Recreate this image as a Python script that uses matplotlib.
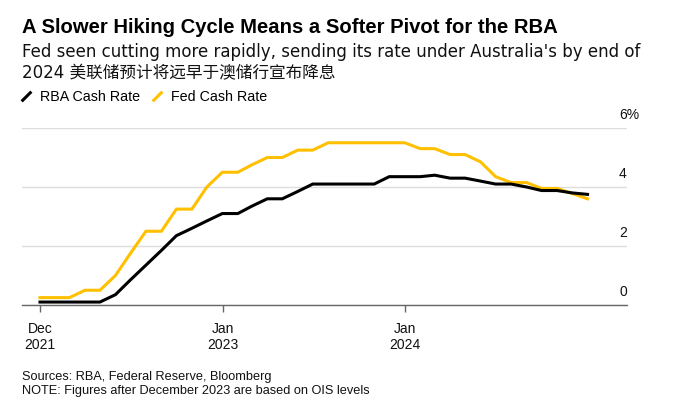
import matplotlib
matplotlib.use('Agg')
import matplotlib.pyplot as plt
import matplotlib.transforms as mtransforms
from matplotlib.lines import Line2D
import pandas as pd

plt.rcParams['font.family'] = ['Liberation Sans', 'Noto Sans CJK SC', 'DejaVu Sans']

# monthly readings, end of Dec 2021 to end of Dec 2024 (OIS after Dec 2023)
months = pd.date_range('2021-12-31', periods=37, freq='ME')
rba_rate = [0.1, 0.1, 0.1, 0.1, 0.1, 0.35, 0.85, 1.35, 1.85, 2.35, 2.6, 2.85, 3.1,
            3.1, 3.35, 3.6, 3.6, 3.85, 4.1, 4.1, 4.1, 4.1, 4.1, 4.35, 4.35,
            4.35, 4.4, 4.3, 4.3, 4.2, 4.1, 4.1, 4.0, 3.88, 3.88, 3.8, 3.75]
fed_rate = [0.25, 0.25, 0.25, 0.5, 0.5, 1.0, 1.75, 2.5, 2.5, 3.25, 3.25, 4.0, 4.5,
            4.5, 4.75, 5.0, 5.0, 5.25, 5.25, 5.5, 5.5, 5.5, 5.5, 5.5, 5.5,
            5.3, 5.3, 5.1, 5.1, 4.85, 4.35, 4.15, 4.15, 3.95, 3.95, 3.78, 3.6]

tick_dates = [pd.Timestamp('2021-12-31'), pd.Timestamp('2023-01-01'), pd.Timestamp('2024-01-01')]
tick_labels = ['Dec\n2021', 'Jan\n2023', 'Jan\n2024']
y_ticks = [0, 2, 4, 6]
y_labels = ['0', '2', '4', '6%']

title = 'A Slower Hiking Cycle Means a Softer Pivot for the RBA'
subtitle = ("Fed seen cutting more rapidly, sending its rate under Australia's by end of\n"
            "2024 美联储预计将远早于澳储行宣布降息")
source = ('Sources: RBA, Federal Reserve, Bloomberg\n'
          'NOTE: Figures after December 2023 are based on OIS levels')

BLACK = '#000000'
YELLOW = '#FFC000'
W, H = 673, 415

fig = plt.figure(figsize=(W / 100, H / 100), dpi=100)
ax = fig.add_axes([22 / W, 1 - 305 / H, (627 - 22) / W, (305 - 128) / H])

ax.plot(months, fed_rate, color=YELLOW, lw=2.2, solid_joinstyle='miter')
ax.plot(months, rba_rate, color=BLACK, lw=2.2, solid_joinstyle='miter')

ax.set_ylim(0, 6)
ax.set_xlim(months[0] - pd.Timedelta(days=36), months[0] + pd.Timedelta(days=1175))

for s in ['top', 'left', 'right']:
    ax.spines[s].set_visible(False)
ax.spines['bottom'].set_color('#666666')
ax.spines['bottom'].set_linewidth(1.0)

ax.set_yticks(y_ticks)
ax.set_yticklabels(y_labels)
ax.grid(axis='y', color='#dddddd', lw=1.0)
ax.set_axisbelow(True)
ax.tick_params(axis='y', left=False, labelleft=False, right=False, labelright=True,
               length=0, pad=0, labelsize=10, labelcolor='#111111')
shift = mtransforms.ScaledTranslation(-8 / 100, 9 / 100, fig.dpi_scale_trans)
for lab in ax.get_yticklabels():
    lab.set_horizontalalignment('left')
    lab.set_verticalalignment('baseline')
    lab.set_transform(lab.get_transform() + shift)

ax.set_xticks(tick_dates)
ax.set_xticklabels(tick_labels, linespacing=1.25)
ax.tick_params(axis='x', length=5, width=1, color='#666666', pad=7,
               labelsize=10, labelcolor='#111111')

fig.text(22 / W, 1 - 33 / H, title, fontsize=14.6, fontweight='bold', va='baseline')
# subtitle font is wider than Arial in the original, DejaVu comes close
fig.text(22 / W, 1 - 78 / H, subtitle, fontsize=12, va='baseline', linespacing=1.2,
         color='#111111', family=['DejaVu Sans', 'Noto Sans CJK SC'])
fig.text(22 / W, 1 - 394 / H, source, fontsize=9.2, va='baseline', linespacing=1.25,
         color='#111111')

slash = [(-1, -1), (1, 1)]
handles = [Line2D([], [], color=BLACK, marker=slash, ls='none', ms=7, mew=2.2),
           Line2D([], [], color=YELLOW, marker=slash, ls='none', ms=7, mew=2.2)]
fig.legend(handles, ['RBA Cash Rate', 'Fed Cash Rate'], loc='center left',
           bbox_to_anchor=(19 / W, 1 - 97 / H), ncol=2, frameon=False,
           fontsize=10.3, handlelength=1.0, handletextpad=0.5, columnspacing=0.65,
           borderpad=0, borderaxespad=0)

fig.savefig('out.png', dpi=100)
